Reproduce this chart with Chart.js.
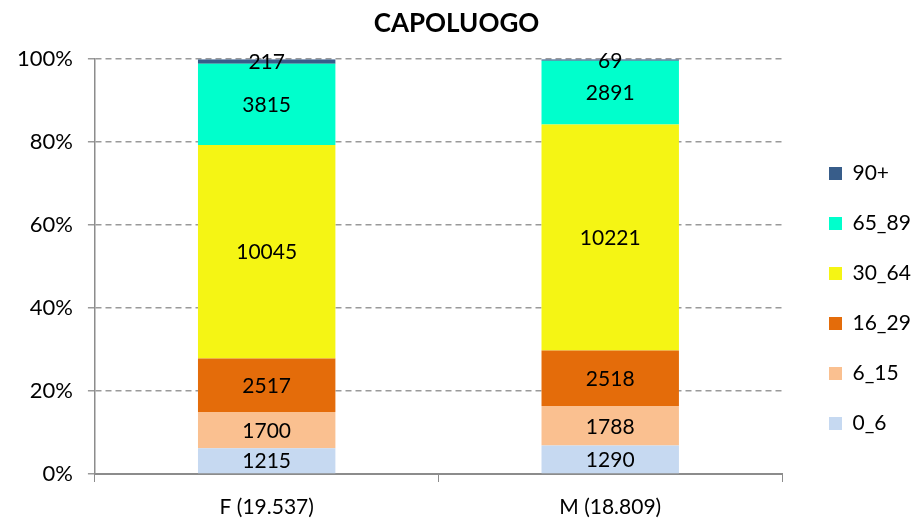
<!DOCTYPE html>
<html>
<head>
<meta charset="utf-8">
<script src="https://cdn.jsdelivr.net/npm/chart.js@4.4.0/dist/chart.umd.min.js"></script>
<style>
  html, body { margin: 0; padding: 0; background: #fff; }
  #wrap { width: 911px; height: 519px; }
</style>
</head>
<body>
<div id="wrap"><canvas id="popChart"></canvas></div>
<script>
var categories = ['F (19.537)', 'M (18.809)'];
var ageGroups = ['0_6', '6_15', '16_29', '30_64', '65_89', '90+'];
var values = [
    [1215, 1290],
    [1700, 1788],
    [2517, 2518],
    [10045, 10221],
    [3815, 2891],
    [217, 69]
];
var colors = ['#c6d9f1', '#fac090', '#e46c0a', '#f5f514', '#00ffcc', '#385d8a'];

var totals = categories.map(function (c, i) {
    var s = 0;
    values.forEach(function (v) { s += v[i]; });
    return s;
});

var datasets = ageGroups.map(function (g, k) {
    return {
        label: g,
        data: values[k].map(function (v, i) { return v / totals[i] * 100; }),
        raw: values[k],
        backgroundColor: colors[k],
        borderWidth: 0
    };
});

// write the counts in the middle of every segment
var segmentLabels = {
    id: 'segmentLabels',
    afterDatasetsDraw: function (chart) {
        var ctx = chart.ctx;
        ctx.save();
        ctx.font = '21px Lato';
        ctx.fillStyle = '#000';
        ctx.textAlign = 'center';
        ctx.textBaseline = 'middle';
        chart.data.datasets.forEach(function (ds, k) {
            chart.getDatasetMeta(k).data.forEach(function (bar, i) {
                var mid = (bar.y + bar.base) / 2;
                ctx.fillText(ds.raw[i], bar.x, mid + 1);
            });
        });
        ctx.restore();
    }
};

var ctx = document.getElementById('popChart').getContext('2d');
var chart = new Chart(ctx, {
    type: 'bar',
    data: { labels: categories, datasets: datasets },
    options: {
        responsive: true,
        maintainAspectRatio: false,
        animation: false,
        layout: { padding: { left: 2, right: 0, top: 4, bottom: 0 } },
        datasets: { bar: { barPercentage: 0.4, categoryPercentage: 1 } },
        plugins: {
            title: {
                display: true,
                text: 'CAPOLUOGO',
                color: '#000',
                font: { family: 'Lato', size: 26, weight: 'bold' },
                padding: { top: 4, bottom: 20 }
            },
            legend: {
                position: 'right',
                reverse: true,
                maxWidth: 111,
                title: {
                    display: true,
                    text: ' ',
                    font: { family: 'Lato', size: 20 },
                    padding: { top: 25, bottom: 25 }
                },
                labels: {
                    color: '#000',
                    font: { family: 'Lato', size: 21 },
                    boxWidth: 13,
                    boxHeight: 13,
                    padding: 29
                }
            },
            tooltip: { enabled: false }
        },
        scales: {
            x: {
                stacked: true,
                grid: {
                    offset: true,
                    drawOnChartArea: false,
                    drawTicks: true,
                    tickLength: 8,
                    color: '#8c8c8c'
                },
                border: { color: '#8c8c8c', width: 2 },
                ticks: {
                    color: '#000',
                    padding: 13,
                    font: { family: 'Lato', size: 21 }
                },
                afterFit: function (s) { s.height = 45; }
            },
            y: {
                stacked: true,
                min: 0,
                max: 100,
                grid: {
                    color: '#9a9a9a',
                    lineWidth: 1.5,
                    tickLength: 7
                },
                border: { color: '#8c8c8c', width: 1.5, dash: [6, 4] },
                ticks: {
                    stepSize: 20,
                    color: '#000',
                    padding: 15,
                    font: { family: 'Lato', size: 22 },
                    callback: function (v) { return v + '%'; }
                }
            },
            gap: {
                type: 'linear',
                position: 'right',
                grid: { display: false },
                border: { display: false },
                ticks: { display: false },
                afterFit: function (s) { s.width = 18; }
            }
        }
    },
    plugins: [segmentLabels]
});
</script>
</body>
</html>
